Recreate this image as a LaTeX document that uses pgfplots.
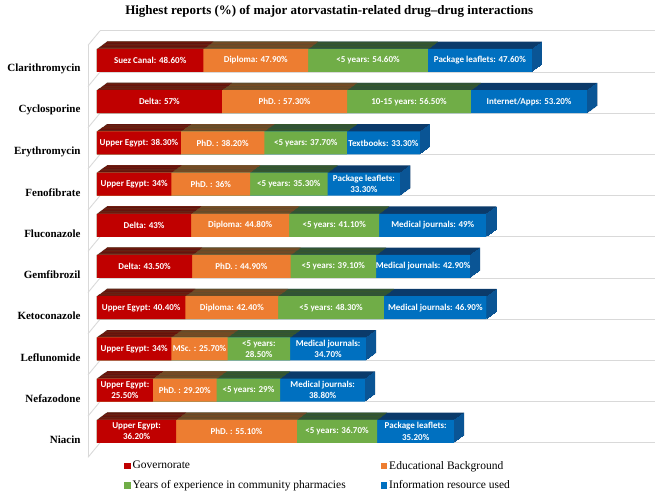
\documentclass[border=0pt]{standalone}
\usepackage{pgfplots}
\usepackage{pgfplotstable}
\pgfplotsset{compat=1.18}
\usepackage{fontspec}
\setmainfont{Liberation Serif}
\newfontfamily\barfont{Carlito}

\definecolor{cred}{HTML}{C00000}
\definecolor{cora}{HTML}{ED7D31}
\definecolor{cgre}{HTML}{70AD47}
\definecolor{cblu}{HTML}{0070C0}
\definecolor{tred}{HTML}{6E0000}
\definecolor{tora}{HTML}{8A4A1E}
\definecolor{tgre}{HTML}{3D5C26}
\definecolor{tblu}{HTML}{0B3A6A}
\definecolor{sblu}{HTML}{0A5595}
\definecolor{gridc}{HTML}{D9D9D9}

\pgfplotstableread[col sep=comma]{
y,g,e,yr,inf,lg,le,ly,li
0,48.6,47.9,54.6,47.6,{Suez Canal: 48.60\%},{Diploma: 47.90\%},{<5 years: 54.60\%},{Package leaflets: 47.60\%}
1,57,57.3,56.5,53.2,{Delta: 57\%},{PhD. : 57.30\%},{10-15 years: 56.50\%},{Internet/Apps: 53.20\%}
2,38.3,38.2,37.7,33.3,{Upper Egypt: 38.30\%},{PhD. : 38.20\%},{<5 years: 37.70\%},{Textbooks: 33.30\%}
3,34,36,35.3,33.3,{Upper Egypt: 34\%},{PhD. : 36\%},{<5 years: 35.30\%},{Package leaflets:\\33.30\%}
4,43,44.8,41.1,49,{Delta: 43\%},{Diploma: 44.80\%},{<5 years: 41.10\%},{Medical journals: 49\%}
5,43.5,44.9,39.1,42.9,{Delta: 43.50\%},{PhD. : 44.90\%},{<5 years: 39.10\%},{Medical journals: 42.90\%}
6,40.4,42.4,48.3,46.9,{Upper Egypt: 40.40\%},{Diploma: 42.40\%},{<5 years: 48.30\%},{Medical journals: 46.90\%}
7,34,25.7,28.5,34.7,{Upper Egypt: 34\%},{MSc. : 25.70\%},{<5 years:\\28.50\%},{Medical journals:\\34.70\%}
8,25.5,29.2,29,38.8,{Upper Egypt:\\25.50\%},{PhD. : 29.20\%},{<5 years: 29\%},{Medical journals:\\38.80\%}
9,36.2,55.1,36.7,35.2,{Upper Egypt:\\36.20\%},{PhD. : 55.10\%},{<5 years: 36.70\%},{Package leaflets:\\35.20\%}
}\data
\pgfplotstablecreatecol[create col/expr={\thisrow{g}+\thisrow{e}}]{c2}{\data}
\pgfplotstablecreatecol[create col/expr={\thisrow{c2}+\thisrow{yr}}]{c3}{\data}
\pgfplotstablecreatecol[create col/expr={\thisrow{c3}+\thisrow{inf}}]{c4}{\data}
\pgfplotstablecreatecol[create col/expr={\thisrow{g}/2}]{m1}{\data}
\pgfplotstablecreatecol[create col/expr={\thisrow{g}+\thisrow{e}/2}]{m2}{\data}
\pgfplotstablecreatecol[create col/expr={\thisrow{c2}+\thisrow{yr}/2}]{m3}{\data}
\pgfplotstablecreatecol[create col/expr={\thisrow{c3}+\thisrow{inf}/2}]{m4}{\data}

\begin{document}%
\begin{tikzpicture}
\begin{axis}[
  at={(0,0)}, anchor=south west,
  x=2.189pt, y=41.2pt, y dir=reverse,
  xmin=0, xmax=255, ymin=-0.75, ymax=9.75,
  clip=false,
  axis line style={draw=none},
  tick style={draw=none},
  xtick=\empty,
  ytick={0,...,9},
  yticklabels={Clarithromycin,Cyclosporine,Erythromycin,Fenofibrate,Fluconazole,Gemfibrozil,Ketoconazole,Leflunomide,Nefazodone,Niacin},
  yticklabel style={font=\fontsize{11}{13}\selectfont\bfseries, anchor=east, xshift=-13pt, yshift=-8.5pt},
  title={Highest reports (\%) of major atorvastatin-related drug--drug interactions},
  title style={font=\fontsize{13}{15}\selectfont\bfseries, at={(0.416,1)}, anchor=center, yshift=12.6pt},
  legend columns=2, reverse legend,
  legend style={at={(axis cs:12.3,9.67)}, anchor=north west, draw=none, fill=none, inner sep=0pt,
    font=\fontsize{11.5}{13}\selectfont, row sep=6pt,
    /tikz/every even column/.append style={column sep=33pt}, cells={anchor=west}},
  bar3d/.style={xbar, bar shift=0pt, bar width=23pt, draw=none},
  lab/.style={draw=none, forget plot, nodes near coords, point meta=explicit symbolic,
    every node near coord/.append style={anchor=center, font=\barfont\bfseries\fontsize{9}{11.5}\selectfont, text=white, align=center, inner sep=0pt}},
]
% back wall / grid
\pgfplotsinvokeforeach{-0.72,0.28,1.28,2.28,3.28,4.28,5.28,6.28,7.28,8.28,9.28}{
  \draw[gridc, line width=0.9pt] (axis cs:1.37,#1) -- (axis cs:255,#1);
  \draw[gridc, line width=0.9pt] (axis cs:1.37,#1) -- ++(-12pt,-14.5pt);
}
\draw[gridc, line width=0.9pt] (axis cs:-4.11,-0.37) -- (axis cs:-4.11,9.63);
% extruded top faces
\pgfplotsinvokeforeach{10,9,8,7,6,5,4,3,2,1}{
  \addplot[bar3d, fill=tblu, xshift=#1pt, yshift=0.73*#1pt, forget plot] table[x=c4,y=y]{\data};
  \addplot[bar3d, fill=tgre, xshift=#1pt, yshift=0.73*#1pt, forget plot] table[x=c3,y=y]{\data};
  \addplot[bar3d, fill=tora, xshift=#1pt, yshift=0.73*#1pt, forget plot] table[x=c2,y=y]{\data};
  \addplot[bar3d, fill=tred, xshift=#1pt, yshift=0.73*#1pt, forget plot] table[x=g,y=y]{\data};
}
% right side faces
\pgfplotsinvokeforeach{0.5,1.5,2.5,3.5,4.5,5.5,6.5,7.5,8.5,9.5}{
  \addplot[only marks, mark=|, mark size=11.5pt, mark options={draw=sblu, line width=1.15pt}, xshift=#1pt, yshift=0.73*#1pt, forget plot] table[x=c4,y=y]{\data};
}
% front faces
\addplot[bar3d, fill=cblu, legend image code/.code={\fill[cblu] (0pt,-3.25pt) rectangle (6.5pt,3.25pt);}] table[x=c4,y=y]{\data};
\addlegendentry{Information resource used}
\addplot[bar3d, fill=cgre, legend image code/.code={\fill[cgre] (0pt,-3.25pt) rectangle (6.5pt,3.25pt);}] table[x=c3,y=y]{\data};
\addlegendentry{Years of experience in community pharmacies}
\addplot[bar3d, fill=cora, legend image code/.code={\fill[cora] (0pt,-3.25pt) rectangle (6.5pt,3.25pt);}] table[x=c2,y=y]{\data};
\addlegendentry{Educational Background}
\addplot[bar3d, fill=cred, legend image code/.code={\fill[cred] (0pt,-3.25pt) rectangle (6.5pt,3.25pt);}] table[x=g,y=y]{\data};
\addlegendentry{Governorate}
% labels
\addplot[lab] table[x=m1,y=y,meta=lg]{\data};
\addplot[lab] table[x=m2,y=y,meta=le]{\data};
\addplot[lab] table[x=m3,y=y,meta=ly]{\data};
\addplot[lab] table[x=m4,y=y,meta=li]{\data};
\end{axis}
\pgfresetboundingbox
\path[use as bounding box] (-97pt,-34.8pt) rectangle (572pt,462.2pt);
\end{tikzpicture}%
\end{document}
